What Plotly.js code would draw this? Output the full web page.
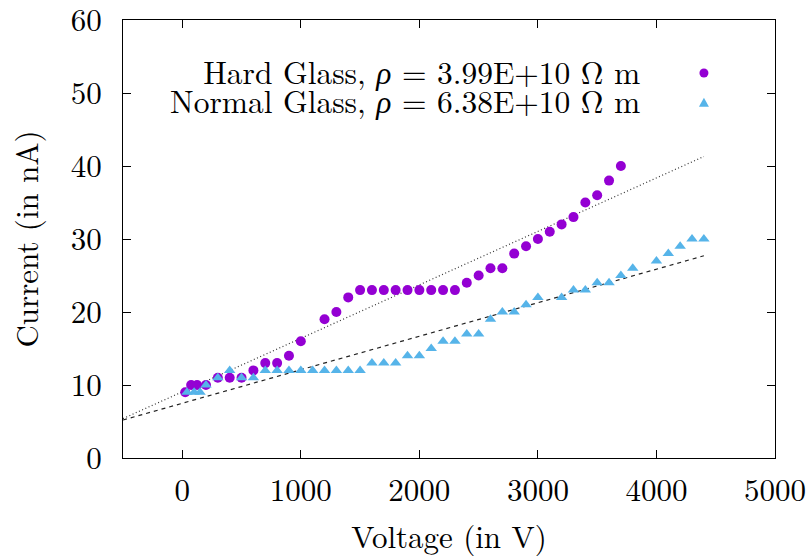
<!DOCTYPE html>
<html>
<head>
<meta charset="utf-8">
<script src="https://cdn.plot.ly/plotly-3.0.1.min.js"></script>
<style>html,body{margin:0;padding:0;background:#fff}#chart{width:807px;height:557px}</style>
</head>
<body>
<div id="chart"></div>
<script>
// Data
const hardVoltage = [25, 75, 125, 200, 300, 400, 500, 600, 700, 800, 900, 1000, 1200, 1300, 1400, 1500, 1600, 1700, 1800, 1900, 2000, 2100, 2200, 2300, 2400, 2500, 2600, 2700, 2800, 2900, 3000, 3100, 3200, 3300, 3400, 3500, 3600, 3700];
const hardCurrent = [9, 10, 10, 10, 11, 11, 11, 12, 13, 13, 14, 16, 19, 20, 22, 23, 23, 23, 23, 23, 23, 23, 23, 23, 24, 25, 26, 26, 28, 29, 30, 31, 32, 33, 35, 36, 38, 40];
const normalVoltage = [40, 100, 150, 200, 300, 400, 500, 600, 700, 800, 900, 1000, 1100, 1200, 1300, 1400, 1500, 1600, 1700, 1800, 1900, 2000, 2100, 2200, 2300, 2400, 2500, 2600, 2700, 2800, 2900, 3000, 3200, 3300, 3400, 3500, 3600, 3700, 3800, 4000, 4100, 4200, 4300, 4400];
const normalCurrent = [9, 9, 9, 10, 11, 12, 11, 11, 12, 12, 12, 12, 12, 12, 12, 12, 12, 13, 13, 13, 14, 14, 15, 16, 16, 17, 17, 19, 20, 20, 21, 22, 22, 23, 23, 24, 24, 25, 26, 27, 28, 29, 30, 30];
const fitVoltage = [-500, 4400];
const hardFitCurrent = [5.4, 41.3];
const normalFitCurrent = [5.2, 27.7];
const legendLabels = ["Hard Glass, <i>\u03c1</i> = 3.99E+10 \u03a9 m", "Normal Glass, <i>\u03c1</i> = 6.38E+10 \u03a9 m"];
const xTicks = [0, 1000, 2000, 3000, 4000, 5000];
const yTicks = [0, 10, 20, 30, 40, 50, 60];

const purple = "#9400d3", blue = "#56b4e9";
const FONT = "'Latin Modern Roman', 'Liberation Serif', serif";
const FS = 31;
const LFS = 31.5;

const traces = [
  {x: fitVoltage, y: hardFitCurrent, mode: "lines", line: {color: "#333", width: 1.2, dash: "1px,2.5px"}, showlegend: false, hoverinfo: "skip"},
  {x: fitVoltage, y: normalFitCurrent, mode: "lines", line: {color: "#222", width: 1.2, dash: "4px,4px"}, showlegend: false, hoverinfo: "skip"},
  {x: hardVoltage, y: hardCurrent, mode: "markers", marker: {symbol: "circle", size: 10, color: purple}, showlegend: false},
  {x: normalVoltage, y: normalCurrent, mode: "markers", marker: {symbol: "triangle-up", size: 10, color: blue}, showlegend: false}
];

const axisCommon = {
  showgrid: false, zeroline: false, showline: true, linecolor: "#000", linewidth: 1,
  mirror: "ticks", ticks: "inside", ticklen: 8, tickwidth: 1, tickcolor: "#000",
  ticklabeloverflow: "allow",
  tickfont: {family: FONT, size: FS, color: "#000"}
};

// both legend rows in one text block; line pitch comes from the base size (1.3 x 22 px)
const legendText = legendLabels.map(t => '<span style="font-size:' + LFS + 'px">' + t + '</span>').join("<br>");

const layout = {
  width: 807, height: 557,
  margin: {l: 123, r: 32, t: 20, b: 99, pad: 0},
  paper_bgcolor: "#fff", plot_bgcolor: "#fff",
  showlegend: false,
  font: {family: FONT, size: FS, color: "#000"},
  xaxis: Object.assign({}, axisCommon, {range: [-500, 5000], tickvals: xTicks, ticktext: xTicks.map(String),
    ticklabelstandoff: 5,
    title: {text: "Voltage (in V)", font: {family: FONT, size: FS, color: "#000"}, standoff: 17}}),
  yaxis: Object.assign({}, axisCommon, {range: [0, 60], tickvals: yTicks, ticktext: yTicks.map(String),
    ticklabelstandoff: 14,
    title: {text: "Current (in nA)", font: {family: FONT, size: FS, color: "#000"}, standoff: 22}}),
  annotations: [
    {xref: "paper", yref: "paper", x: 0.796, y: 0.8505, xanchor: "right", yanchor: "middle", align: "right", showarrow: false,
     text: legendText, font: {family: FONT, size: 22, color: "#000"}}
  ],
  shapes: [
    {type: "circle", xref: "paper", yref: "paper", xsizemode: "pixel", ysizemode: "pixel",
     xanchor: 0.891, yanchor: 0.879, x0: -4.5, x1: 4.5, y0: -4.5, y1: 4.5,
     fillcolor: purple, line: {width: 0}},
    {type: "path", xref: "paper", yref: "paper", xsizemode: "pixel", ysizemode: "pixel",
     xanchor: 0.891, yanchor: 0.811, path: "M -5,-4 L 5,-4 L 0,5 Z",
     fillcolor: blue, line: {width: 0}}
  ]
};

Plotly.newPlot("chart", traces, layout, {staticPlot: true, displayModeBar: false});
</script>
</body>
</html>
